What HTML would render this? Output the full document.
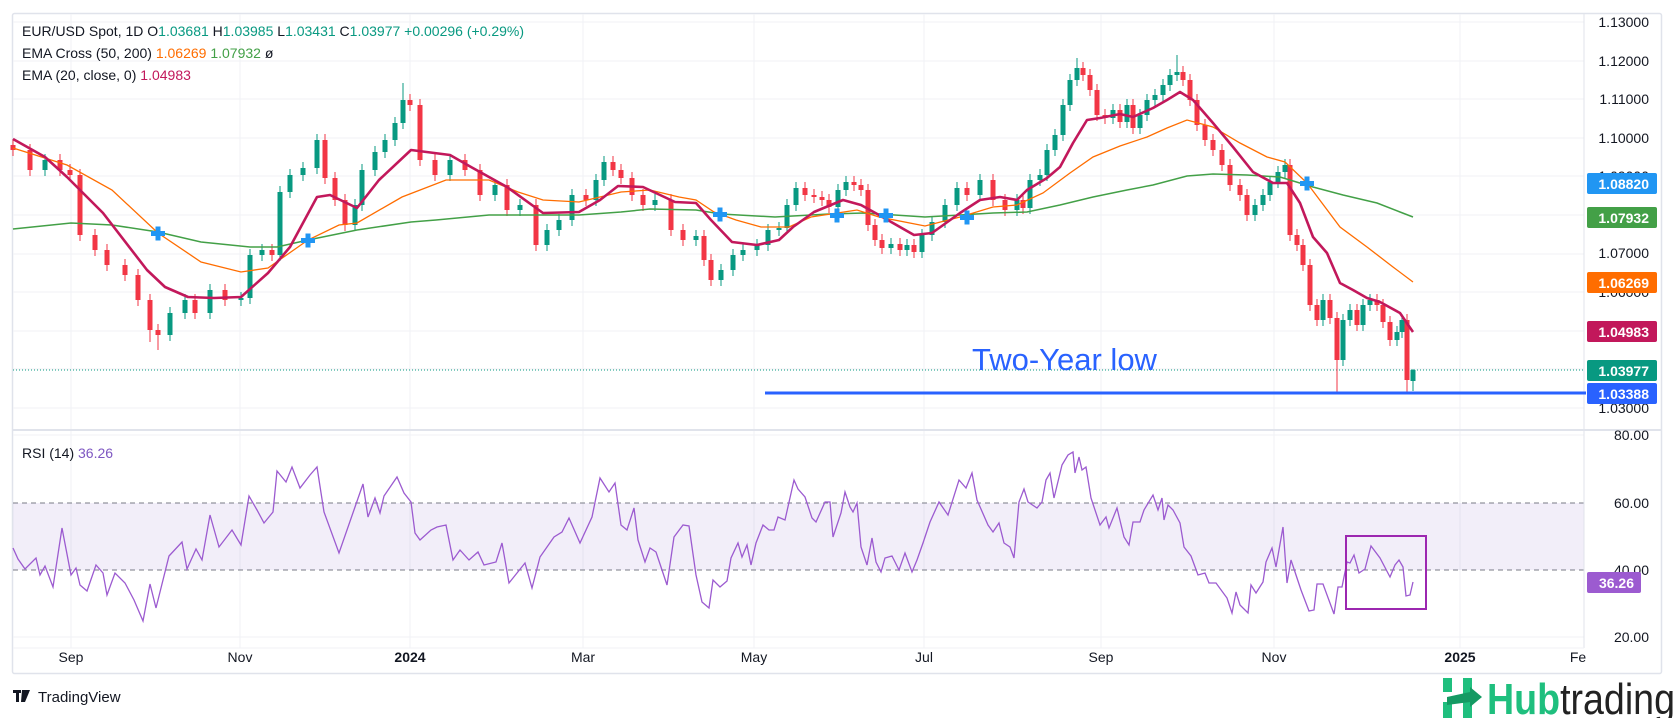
<!DOCTYPE html>
<html><head><meta charset="utf-8">
<style>
html,body{margin:0;padding:0;background:#fff;}
svg{display:block;font-family:"Liberation Sans","DejaVu Sans",sans-serif;}
</style></head>
<body>
<svg width="1675" height="718" viewBox="0 0 1675 718" xmlns="http://www.w3.org/2000/svg">
<rect x="0" y="0" width="1675" height="718" fill="#fff"/>
<rect x="12.5" y="13.5" width="1649" height="660" fill="#fff" stroke="#e0e3eb" stroke-width="1.5" rx="2"/>
<g stroke="#f0f2f5" stroke-width="1">
<line x1="13" y1="22" x2="1584" y2="22"/><line x1="13" y1="61" x2="1584" y2="61"/><line x1="13" y1="99" x2="1584" y2="99"/><line x1="13" y1="138" x2="1584" y2="138"/><line x1="13" y1="176" x2="1584" y2="176"/><line x1="13" y1="215" x2="1584" y2="215"/><line x1="13" y1="254" x2="1584" y2="254"/><line x1="13" y1="292" x2="1584" y2="292"/><line x1="13" y1="331" x2="1584" y2="331"/><line x1="13" y1="369" x2="1584" y2="369"/><line x1="13" y1="408" x2="1584" y2="408"/>
<line x1="13" y1="435" x2="1584" y2="435"/><line x1="13" y1="637" x2="1584" y2="637"/>
<line x1="71" y1="14" x2="71" y2="648"/><line x1="240" y1="14" x2="240" y2="648"/><line x1="410" y1="14" x2="410" y2="648"/><line x1="583" y1="14" x2="583" y2="648"/><line x1="754" y1="14" x2="754" y2="648"/><line x1="924" y1="14" x2="924" y2="648"/><line x1="1101" y1="14" x2="1101" y2="648"/><line x1="1274" y1="14" x2="1274" y2="648"/><line x1="1460" y1="14" x2="1460" y2="648"/>
</g>
<rect x="13" y="503" width="1571" height="67" fill="#7e57c2" fill-opacity="0.1"/>
<line x1="13" y1="503" x2="1584" y2="503" stroke="#787b86" stroke-dasharray="5,4" stroke-width="1"/>
<line x1="13" y1="570" x2="1584" y2="570" stroke="#787b86" stroke-dasharray="5,4" stroke-width="1"/>
<line x1="13" y1="430" x2="1661" y2="430" stroke="#e0e3eb" stroke-width="2"/>
<line x1="1584" y1="14" x2="1584" y2="648" stroke="#e0e3eb" stroke-width="1"/>
<line x1="13" y1="648" x2="1584" y2="648" stroke="#f0f2f5" stroke-width="1"/>
<line x1="13" y1="370" x2="1584" y2="370" stroke="#089981" stroke-width="1" stroke-dasharray="1,2"/>

<!-- red candles -->
<path stroke="#f23645" stroke-width="1" fill="none" d="M13 139V156M30 144V176M60 154V176M70 164V181M80 169V241M95 229V256M107 244V271M125 259V281M138 269V306M150 294V342M158 324V350M195 294V319M225 284V306M272 244V261M325 134V184M335 172V206M345 194V231M410 94V111M420 99V166M435 154V181M465 154V176M480 164V201M507 179V216M536 199V251M586 189V206M613 156V176M621 164V184M632 172V201M643 189V211M671 194V236M683 224V246M704 230V266M711 254V286M805 182V201M814 189V203M822 191V206M829 194V213M854 176V191M861 179V196M868 184V231M875 219V246M882 234V254M900 238V256M914 239V258M967 182V201M993 174V206M1005 194V216M1023 194V214M1083 62V81M1090 69V96M1097 84V121M1105 109V124M1120 104V128M1133 99V134M1183 66V86M1190 74V106M1197 94V131M1205 119V146M1213 134V156M1222 144V171M1230 159V191M1240 179V201M1247 189V221M1290 159V241M1297 229V251M1303 239V271M1310 259V311M1317 299V326M1330 294V324M1337 312V393M1357 304V331M1377 294V311M1383 299V328M1390 316V346M1407 314V392"/>
<path stroke="#f23645" stroke-width="5" fill="none" d="M13 145V150M30 150V170M60 160V170M70 170V175M80 175V235M95 235V250M107 250V265M125 265V275M138 275V300M150 300V330M158 330V335M195 300V313M225 290V300M272 250V255M325 140V178M335 178V200M345 200V225M410 100V105M420 105V160M435 160V175M465 160V170M480 170V195M507 185V210M536 205V245M586 195V200M613 162V170M621 170V178M632 178V195M643 195V205M671 200V230M683 230V240M704 236V260M711 260V280M805 188V195M814 195V197M822 197V200M829 200V207M854 182V185M861 185V190M868 190V225M875 225V240M882 240V248M900 244V250M914 245V252M967 188V195M993 180V200M1005 200V210M1023 200V208M1083 68V75M1090 75V90M1097 90V115M1105 115V118M1120 110V122M1133 105V128M1183 72V80M1190 80V100M1197 100V125M1205 125V140M1213 140V150M1222 150V165M1230 165V185M1240 185V195M1247 195V215M1290 165V235M1297 235V245M1303 245V265M1310 265V305M1317 305V320M1330 300V318M1337 318V360M1357 310V325M1377 300V305M1383 305V322M1390 322V340M1407 320V380"/>
<!-- green candles -->
<path stroke="#089981" stroke-width="1" fill="none" d="M45 154V176M170 307V341M185 294V319M210 284V319M241 292V306M250 249V304M262 244V261M280 186V261M290 169V198M303 162V181M317 134V174M355 199V231M362 164V211M375 146V176M385 134V158M395 117V146M403 83V129M450 154V181M495 179V201M520 199V216M547 224V251M559 214V236M572 189V226M596 174V206M604 156V186M655 194V211M696 230V246M721 264V286M733 249V276M743 244V261M757 239V256M768 224V251M779 222V236M787 199V234M796 182V211M838 184V213M846 176V196M891 238V254M907 239V256M922 229V258M932 216V241M945 199V228M957 182V211M980 174V201M1017 194V216M1030 174V214M1040 169V186M1047 144V181M1055 129V156M1063 99V141M1070 74V111M1077 58V86M1113 104V124M1127 99V128M1140 109V134M1147 94V121M1155 89V106M1163 79V101M1170 69V91M1177 55V81M1255 199V221M1263 189V211M1270 176V201M1278 166V188M1285 159V178M1323 294V326M1343 314V366M1350 304V326M1363 299V331M1370 294V311M1397 326V346M1402 314V338M1413 369V391"/>
<path stroke="#089981" stroke-width="5" fill="none" d="M45 160V170M170 313V335M185 300V313M210 290V313M241 298V300M250 255V298M262 250V255M280 192V255M290 175V192M303 168V175M317 140V168M355 205V225M362 170V205M375 152V170M385 140V152M395 123V140M403 100V123M450 160V175M495 185V195M520 205V210M547 230V245M559 220V230M572 195V220M596 180V200M604 162V180M655 200V205M696 236V240M721 270V280M733 255V270M743 250V255M757 245V250M768 230V245M779 228V230M787 205V228M796 188V205M838 190V207M846 182V190M891 244V248M907 245V250M922 235V252M932 222V235M945 205V222M957 188V205M980 180V195M1017 200V210M1030 180V208M1040 175V180M1047 150V175M1055 135V150M1063 105V135M1070 80V105M1077 68V80M1113 110V118M1127 105V122M1140 115V128M1147 100V115M1155 95V100M1163 85V95M1170 75V85M1177 72V75M1255 205V215M1263 195V205M1270 182V195M1278 172V182M1285 165V172M1323 300V320M1343 320V360M1350 310V320M1363 305V325M1370 300V305M1397 332V340M1402 320V332M1413 370V381"/>

<!-- EMAs -->
<polyline fill="none" stroke="#43a047" stroke-width="1.5" points="13,229 71,223 112,225 158,232 201,242 250,247 277,247 308,240 357,230 411,222 436,220 489,215 579,215 621,212 650,209 696,210 721,214 775,217 829,214 864,213 925,217 960,215 993,213 1027,212 1060,205 1093,197 1127,190 1153,185 1187,176 1213,174 1247,175 1280,177 1313,187 1343,195 1377,203 1400,212 1413,217"/>
<polyline fill="none" stroke="#ff6d00" stroke-width="1.3" points="13,148 67,165 112,190 158,233 201,262 241,272 268,268 308,240 339,225 357,223 402,197 446,180 489,180 518,192 543,200 579,202 621,192 650,190 679,197 696,200 714,212 736,220 761,227 789,227 811,217 857,210 879,217 925,226 960,217 993,207 1017,205 1043,193 1070,173 1093,157 1120,146 1147,137 1167,128 1187,120 1213,127 1240,143 1267,157 1285,162 1307,183 1340,227 1367,247 1393,267 1413,282"/>
<polyline fill="none" stroke="#c2185b" stroke-width="2.6" stroke-linejoin="round" points="13,139 45,157 67,177 103,213 147,270 165,287 188,297 214,298 241,297 268,273 290,247 317,197 330,195 357,208 379,180 411,150 450,155 471,167 507,187 543,213 579,212 600,200 618,186 643,187 675,202 696,203 711,220 732,242 757,245 779,240 793,227 814,212 843,200 861,205 879,215 914,235 932,233 960,213 980,200 1000,197 1017,200 1027,190 1047,178 1060,167 1073,143 1087,120 1100,118 1120,114 1133,117 1153,108 1167,100 1180,92 1193,100 1213,123 1233,147 1253,172 1273,183 1287,183 1300,203 1313,237 1327,253 1340,283 1353,290 1367,298 1380,302 1400,313 1413,332"/>
<g fill="#2196f3">
<path d="M151 231h14v5h-14zM155.5 226.5h5v14h-5z"/>
<path d="M301 238h14v5h-14zM305.5 233.5h5v14h-5z"/>
<path d="M713 212h14v5h-14zM717.5 207.5h5v14h-5z"/>
<path d="M830 213h14v5h-14zM834.5 208.5h5v14h-5z"/>
<path d="M879 213h14v5h-14zM883.5 208.5h5v14h-5z"/>
<path d="M960 215h14v5h-14zM964.5 210.5h5v14h-5z"/>
<path d="M1300 181h14v5h-14zM1304.5 176.5h5v14h-5z"/>
</g>

<line x1="765" y1="393" x2="1586" y2="393" stroke="#2962ff" stroke-width="3"/>
<text x="972" y="370" font-size="31" fill="#2962ff">Two-Year low</text>

<polyline fill="none" stroke="#9c5bd0" stroke-width="1.3" points="13,548 18,559 25,569 36,558 40,575 45,566 53,587 62,528 71,575 76,568 80,585 87,591 96,565 103,573 107,595 115,573 125,583 134,600 143,621 150,584 156,608 169,556 182,542 187,569 196,549 202,560 210,515 219,547 232,530 241,545 249,496 257,510 264,523 273,512 277,471 286,482 292,467 300,488 310,475 317,467 324,512 339,553 363,484 368,517 375,498 380,513 384,496 397,477 404,493 411,502 415,533 420,540 431,530 437,527 446,525 453,560 460,550 469,560 478,552 484,565 496,562 502,543 509,583 525,563 532,588 540,557 554,537 562,532 569,518 580,543 592,517 600,478 609,492 615,483 621,525 627,530 634,508 638,540 645,562 650,548 656,552 661,567 667,585 674,537 683,525 689,526 696,575 702,602 709,608 713,580 720,587 727,581 731,558 738,543 742,557 747,545 751,565 756,543 763,525 769,530 774,530 778,517 785,520 794,480 798,489 805,497 812,518 816,522 825,502 830,502 833,537 841,513 845,492 850,507 853,512 857,503 861,547 867,565 872,538 876,562 881,572 885,558 892,556 899,570 905,553 912,572 917,560 923,543 930,522 939,502 948,515 959,480 966,488 972,473 977,500 988,525 993,532 999,523 1004,543 1010,547 1014,558 1019,502 1024,489 1028,502 1037,508 1042,502 1046,480 1050,473 1054,498 1062,465 1068,455 1073,452 1075,473 1079,457 1082,470 1086,467 1091,498 1100,525 1106,517 1109,528 1117,508 1124,537 1129,545 1133,522 1140,522 1144,510 1153,495 1158,510 1162,498 1164,520 1168,505 1173,510 1180,523 1184,547 1191,556 1198,575 1205,573 1209,583 1216,583 1227,598 1232,613 1236,592 1240,605 1248,613 1251,585 1256,593 1263,582 1266,562 1272,548 1276,567 1283,527 1287,583 1291,560 1301,590 1309,611 1314,610 1317,584 1323,584 1334,614 1338,587 1342,587 1347,562 1350,563 1354,555 1359,573 1365,569 1371,546 1380,558 1390,577 1395,565 1399,560 1403,567 1406,596 1410,595 1413,582"/>
<rect x="1346" y="536" width="80" height="73" fill="none" stroke="#9c27b0" stroke-width="2"/>

<g font-size="14" fill="#131722">
<text x="22" y="36">EUR/USD Spot, 1D  O<tspan fill="#089981">1.03681</tspan>  H<tspan fill="#089981">1.03985</tspan>  L<tspan fill="#089981">1.03431</tspan>  C<tspan fill="#089981">1.03977</tspan>  <tspan fill="#089981">+0.00296 (+0.29%)</tspan></text>
<text x="22" y="58">EMA Cross (50, 200)  <tspan fill="#ff6d00">1.06269</tspan>  <tspan fill="#43a047">1.07932</tspan>  ø</text>
<text x="22" y="80">EMA (20, close, 0)  <tspan fill="#c2185b">1.04983</tspan></text>
<text x="22" y="458">RSI (14)  <tspan fill="#7e57c2">36.26</tspan></text>
</g>
<g font-size="14" fill="#131722" text-anchor="end">
<text x="1649" y="27">1.13000</text>
<text x="1649" y="66">1.12000</text>
<text x="1649" y="104">1.11000</text>
<text x="1649" y="143">1.10000</text>
<text x="1649" y="181">1.09000</text>
<text x="1649" y="258">1.07000</text>
<text x="1649" y="297">1.06000</text>
<text x="1649" y="413">1.03000</text>
<text x="1649" y="440">80.00</text>
<text x="1649" y="508">60.00</text>
<text x="1649" y="575">40.00</text>
<text x="1649" y="642">20.00</text>
</g>
<g font-size="14" font-weight="bold" fill="#fff" text-anchor="end">
<rect x="1587" y="173" width="70" height="21" rx="2" fill="#2196f3"/><text x="1649" y="189">1.08820</text>
<rect x="1587" y="207" width="70" height="21" rx="2" fill="#43a047"/><text x="1649" y="223">1.07932</text>
<rect x="1587" y="272" width="70" height="21" rx="2" fill="#ff6d00"/><text x="1649" y="288">1.06269</text>
<rect x="1587" y="321" width="70" height="21" rx="2" fill="#c2185b"/><text x="1649" y="337">1.04983</text>
<rect x="1587" y="360" width="70" height="21" rx="2" fill="#089981"/><text x="1649" y="376">1.03977</text>
<rect x="1587" y="383" width="70" height="21" rx="2" fill="#2962ff"/><text x="1649" y="399">1.03388</text>
<rect x="1587" y="572" width="54" height="21" rx="2" fill="#9c5bd0"/><text x="1634" y="588">36.26</text>
</g>
<g font-size="14" fill="#131722" text-anchor="middle">
<text x="71" y="662">Sep</text>
<text x="240" y="662">Nov</text>
<text x="410" y="662" font-weight="bold">2024</text>
<text x="583" y="662">Mar</text>
<text x="754" y="662">May</text>
<text x="924" y="662">Jul</text>
<text x="1101" y="662">Sep</text>
<text x="1274" y="662">Nov</text>
<text x="1460" y="662" font-weight="bold">2025</text>
<text x="1578" y="662">Fe</text>
</g>
<g fill="#131722">
<rect x="13" y="690" width="8" height="3"/><rect x="16" y="690" width="3" height="12"/>
<path d="M22 690 L30 690 L25 702 L21 702 Z"/>
<text x="38" y="702" font-size="15">TradingView</text>
</g>
<g>
<rect x="1443" y="678" width="9" height="14" fill="#1fbf7e"/>
<rect x="1443" y="702" width="9" height="16" fill="#1fbf7e"/>
<rect x="1463" y="678" width="9" height="40" fill="#1fbf7e"/>
<path d="M1447 697 L1470 692 L1470 687 L1482 697 L1470 707 L1470 702 L1447 705 Z" fill="#159a63"/>
<text x="1487" y="714" font-size="44" font-weight="bold" fill="#1fbf7e" textLength="188" lengthAdjust="spacingAndGlyphs">Hub<tspan fill="#222" font-weight="normal">trading</tspan></text>
</g>
</svg>
</body></html>
